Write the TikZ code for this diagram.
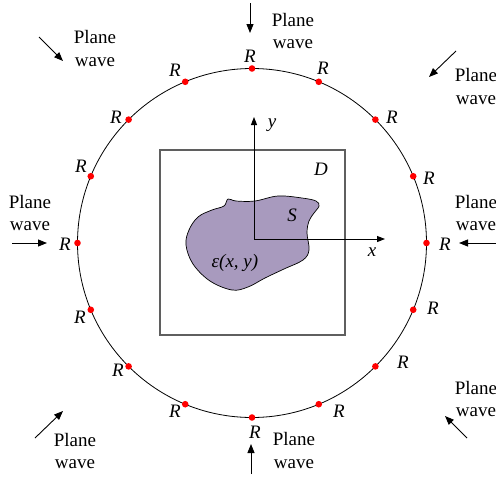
\documentclass[tikz,border=0pt]{standalone}
\usepackage{fontspec}
\setmainfont{Liberation Serif}
\usepackage{tikz}
\usetikzlibrary{arrows.meta}
\definecolor{scatfill}{RGB}{168,154,190}
\definecolor{boxgray}{RGB}{95,95,95}

\begin{document}
\begin{tikzpicture}[x=1pt, y=-1pt,
  wave/.style={align=center, font=\fontsize{19}{22.5}\selectfont, inner sep=0pt},
  lbl/.style={font=\fontsize{19}{22}\selectfont\itshape, inner sep=0pt},
  inc/.style={-{Triangle[length=9pt,width=7pt]}, line width=0.9pt},
  axis/.style={-{Triangle[length=8pt,width=6pt]}, line width=1pt}
]
  \useasboundingbox (0,0) rectangle (496,477);

  % domain and scatterer
  \node[draw=boxgray, line width=1.2pt, minimum size=185pt, inner sep=0pt] (dom) at (252.5,242.5) {};
  \draw[fill=scatfill, line width=0.7pt] plot[smooth cycle, tension=0.6] coordinates {
    (198,217) (212,210) (224,206) (228,199) (236,201) (255,201) (278,196) (302,198)
    (316,201) (319,206) (314,213) (309,221) (307,233) (309,250) (303,260) (284,269)
    (265,278) (248,287) (232,290) (210,281) (193,264) (186,245) (189,230)};

  \coordinate (o) at (254,239);
  \coordinate (yt) at (254,117);
  \coordinate (xt) at (385,239);
  \draw[axis] (o) -- (yt);
  \draw[axis] (o) -- (xt);
  \node[lbl] (ylab) at (272,125) {y};
  \node[lbl] (xlab) at (372,252) {x};
  \node[lbl] (dlab) at (321,169) {D};
  \node[lbl] (slab) at (292,215) {S};
  \node[lbl] (eps) at (235,263) {ε(x, y)};

  % receivers
  \coordinate (c) at (252,243);
  \draw[line width=0.8pt] (c) circle (174.5);
  \foreach \i/\lx/\ly in {0/250/56, 1/323/68, 2/392/117, 3/429/178, 4/445/244, 5/433/308,
      6/403/362, 7/339/411, 8/255/432, 9/175/411, 10/118/370, 11/80/317, 12/65/244,
      13/81/166, 14/116/117, 15/175/70} {
    \path (c) ++(22.5*\i-90:174.5) coordinate (d\i);
    \fill[red] (d\i) circle (3.3);
    \node[lbl] (r\i) at (\lx,\ly) {R};
  }

  % incident plane waves
  \foreach \n/\sx/\sy/\ex/\ey/\tx/\ty in {t/250/3/250/33/293/31, tl/39/37/63/61/95/48.5,
      tr/456/51/429/77/476/86.5, r/498/243/459/243/476/213, br/467/438/445/416/476/399,
      b/251/474/251/444/294/450.5, bl/35/438/63/411/75/451, l/12/243/47/243/30/213} {
    \coordinate (s-\n) at (\sx,\sy);
    \coordinate (e-\n) at (\ex,\ey);
    \draw[inc] (s-\n) -- (e-\n);
    \node[wave] (pw-\n) at (\tx,\ty) {Plane\\wave};
  }
\end{tikzpicture}
\end{document}
